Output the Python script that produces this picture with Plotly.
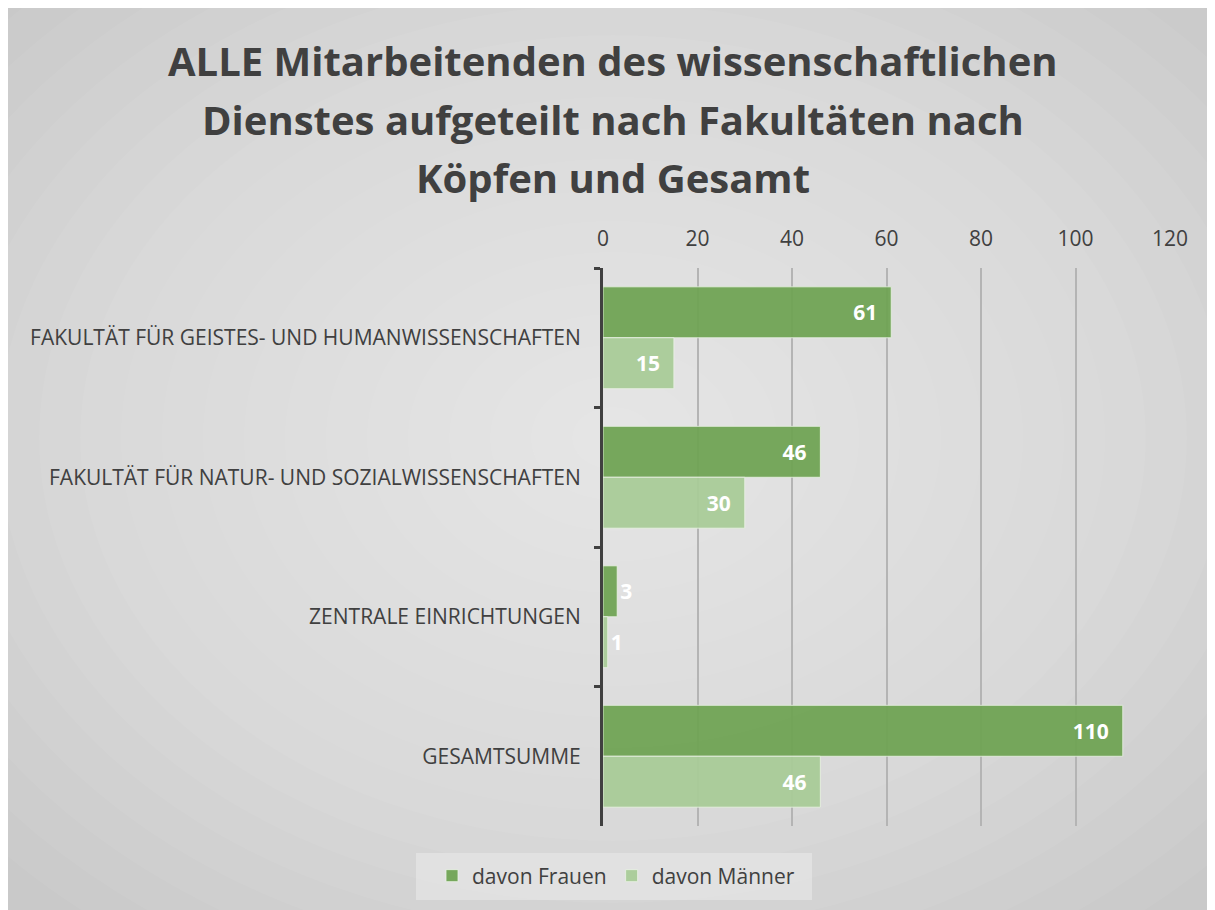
import plotly.graph_objects as go

categories = [
    "FAKULTÄT FÜR GEISTES- UND HUMANWISSENSCHAFTEN",
    "FAKULTÄT FÜR NATUR- UND SOZIALWISSENSCHAFTEN",
    "ZENTRALE EINRICHTUNGEN",
    "GESAMTSUMME",
]
frauen = [61, 46, 3, 110]
maenner = [15, 30, 1, 46]
x_ticks = [0, 20, 40, 60, 80, 100, 120]
title_lines = [
    "ALLE Mitarbeitenden des wissenschaftlichen",
    "Dienstes aufgeteilt nach Fakultäten nach",
    "Köpfen und Gesamt",
]

FONT = "Open Sans"
TXT = "#404040"
FS = 21

W, H = 1215, 910
ML, MR, MT, MB = 595, 53, 260, 92
PW, PH = W - ML - MR, H - MT - MB


def px_to_paper_x(px):
    return (px - ML) / PW


def px_to_paper_y(py):
    return (H - MB - py) / PH


label_font = dict(color="white", size=FS, family=FONT, weight="bold")

fig = go.Figure()
fig.add_trace(go.Bar(
    y=categories, x=frauen, orientation="h", name="davon Frauen",
    marker=dict(color="rgba(112,163,84,0.95)", line=dict(color="rgba(235,242,230,0.8)", width=1)),
    text=[str(v) + "  " for v in frauen], textposition="auto",
    insidetextanchor="end", textfont=label_font, outsidetextfont=label_font,
    cliponaxis=False,
))
fig.add_trace(go.Bar(
    y=categories, x=maenner, orientation="h", name="davon Männer",
    marker=dict(color="rgba(169,203,152,0.95)", line=dict(color="rgba(235,242,230,0.8)", width=1)),
    text=[str(v) + "  " for v in maenner], textposition="auto",
    insidetextanchor="end", textfont=label_font, outsidetextfont=label_font,
    cliponaxis=False,
))

# radial background gradient (lighter centre, darker edges)
shapes = []
n = 20
cx, cy = px_to_paper_x(605), px_to_paper_y(430)
rx, ry = 820 / PW, 620 / PH
for i in range(n):
    f = 1 - i / n
    shapes.append(dict(
        type="circle", xref="paper", yref="paper", layer="below",
        x0=cx - rx * f, x1=cx + rx * f, y0=cy - ry * f, y1=cy + ry * f,
        fillcolor="rgba(255,255,255,0.05)", line=dict(width=0),
    ))
# legend box
shapes.append(dict(
    type="rect", xref="paper", yref="paper", layer="below",
    x0=px_to_paper_x(408), x1=px_to_paper_x(804),
    y0=px_to_paper_y(892), y1=px_to_paper_y(845),
    fillcolor="rgba(228,228,228,0.8)", line=dict(width=0),
))

annotations = []
for line, yc in zip(title_lines, [52, 112, 170]):
    annotations.append(dict(
        text=line, xref="paper", yref="paper", x=px_to_paper_x(605), y=px_to_paper_y(yc),
        xanchor="center", yanchor="middle", showarrow=False,
        font=dict(size=40, family=FONT, color=TXT, weight="bold"),
    ))

fig.update_layout(
    width=W, height=H,
    paper_bgcolor="#c9c9c9", plot_bgcolor="rgba(0,0,0,0)",
    font=dict(family=FONT, color=TXT, size=FS),
    margin=dict(l=ML, r=MR, t=MT, b=MB),
    barmode="group", bargap=0.27, bargroupgap=0,
    xaxis=dict(
        side="top", range=[0, 120], tickvals=x_ticks, showgrid=True,
        gridcolor="#b4b4b4", gridwidth=1.5, zeroline=False, showline=False,
        ticks="", ticklabelstandoff=17, tickfont=dict(size=FS, color=TXT),
    ),
    yaxis=dict(
        autorange="reversed", showline=True, linecolor="#404040", linewidth=3,
        ticks="outside", tickson="boundaries", ticklen=6, tickwidth=3, tickcolor="#404040",
        showgrid=False, ticklabelstandoff=15, tickfont=dict(size=FS, color=TXT),
    ),
    legend=dict(
        orientation="h", x=608 / W, xanchor="center", xref="container",
        y=1 - 868 / H, yanchor="middle", yref="container",
        bgcolor="rgba(0,0,0,0)", font=dict(size=FS, color=TXT),
        itemwidth=30, traceorder="normal",
    ),
    shapes=shapes,
    annotations=annotations,
)

fig.write_html("out.html")
